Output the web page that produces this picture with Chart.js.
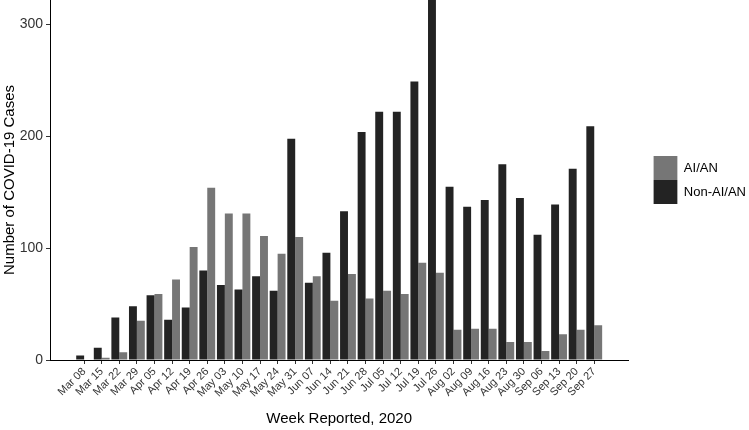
<!DOCTYPE html>
<html>
<head>
<meta charset="utf-8">
<script src="https://cdn.jsdelivr.net/npm/chart.js@4"></script>
<style>
  body { margin: 0; background: #fff; }
  #wrap { width: 749px; height: 430px; }
</style>
</head>
<body>
<div id="wrap"><canvas id="bar-chart"></canvas></div>
<script>
var weeks = ["Mar 08", "Mar 15", "Mar 22", "Mar 29", "Apr 05", "Apr 12", "Apr 19", "Apr 26",
  "May 03", "May 10", "May 17", "May 24", "May 31", "Jun 07", "Jun 14", "Jun 21", "Jun 28",
  "Jul 05", "Jul 12", "Jul 19", "Jul 26", "Aug 02", "Aug 09", "Aug 16", "Aug 23", "Aug 30",
  "Sep 06", "Sep 13", "Sep 20", "Sep 27"];
var aian = [0, 2, 7, 35, 59, 72, 101, 154, 131, 131, 111, 95, 110, 75, 53, 77, 55,
  62, 59, 87, 78, 27, 28, 28, 16, 16, 8, 23, 27, 31];
var nonAian = [4, 11, 38, 48, 58, 36, 47, 80, 67, 63, 75, 62, 198, 69, 96, 133, 204,
  222, 222, 249, 322, 155, 137, 143, 175, 145, 112, 139, 171, 209];
var yTicks = [0, 100, 200, 300];

Chart.defaults.font.family = "'Liberation Sans', Arial, sans-serif";

function points(vals) {
  return vals.map(function (v, i) { return { x: i, y: v }; });
}

new Chart(document.getElementById("bar-chart"), {
  type: 'bar',
  data: {
    datasets: [{
        label: "Non-AI/AN",
        data: points(nonAian),
        backgroundColor: "#232323",
        yAxisID: 'y'
      }, {
        label: "AI/AN",
        data: points(aian),
        backgroundColor: "#767676",
        yAxisID: 'y'
      }
    ]
  },
  options: {
    responsive: true,
    maintainAspectRatio: false,
    animation: false,
    layout: { padding: { top: 0, left: 0, bottom: 0, right: -7 } },
    datasets: { bar: { categoryPercentage: 0.9, barPercentage: 1, borderWidth: 0 } },
    scales: {
      x: {
        type: 'linear',
        bounds: 'data',
        offset: false,
        min: -1.94,
        max: 30.94,
        afterBuildTicks: function (s) {
          s.ticks = weeks.map(function (w, i) { return { value: i }; });
        },
        afterFit: function (s) {
          s.height = 70;
          s.paddingLeft = 0;
          s.paddingRight = 0;
        },
        grid: { display: true, offset: false, drawOnChartArea: false, drawTicks: true, tickLength: 4, color: '#333' },
        border: { display: true, color: '#000', width: 1 },
        ticks: {
          autoSkip: false,
          maxRotation: 45,
          minRotation: 45,
          padding: 1,
          color: '#333',
          font: { size: 11 },
          callback: function (v) { return weeks[v]; }
        },
        title: {
          display: true,
          text: 'Week Reported, 2020',
          color: '#000',
          font: { size: 15 },
          padding: { top: 0, bottom: 2 }
        }
      },
      y: {
        position: 'left',
        bounds: 'data',
        min: 0,
        max: 322,
        afterBuildTicks: function (s) {
          s.ticks = yTicks.map(function (v) { return { value: v }; });
        },
        afterFit: function (s) {
          s.width = 50;
          s.paddingTop = 0;
          s.paddingBottom = 0;
        },
        grid: { display: true, drawOnChartArea: false, drawTicks: true, tickLength: 4, color: '#333' },
        border: { display: true, color: '#000', width: 1 },
        ticks: { padding: 3, color: '#333', font: { size: 14 } },
        title: {
          display: true,
          text: 'Number of COVID-19 Cases',
          color: '#000',
          font: { size: 15 },
          padding: { top: 1, bottom: 0 }
        }
      },
      gap: {
        position: 'right',
        display: true,
        grid: { display: false },
        border: { display: false },
        ticks: { display: false },
        afterFit: function (s) {
          s.width = 25;
          s.paddingTop = 0;
          s.paddingBottom = 0;
        }
      }
    },
    plugins: {
      legend: {
        position: 'right',
        fullSize: false,
        reverse: true,
        labels: {
          boxWidth: 24,
          boxHeight: 24,
          padding: 0,
          color: '#000',
          font: { size: 13 }
        }
      },
      tooltip: { enabled: false }
    }
  }
});
</script>
</body>
</html>
